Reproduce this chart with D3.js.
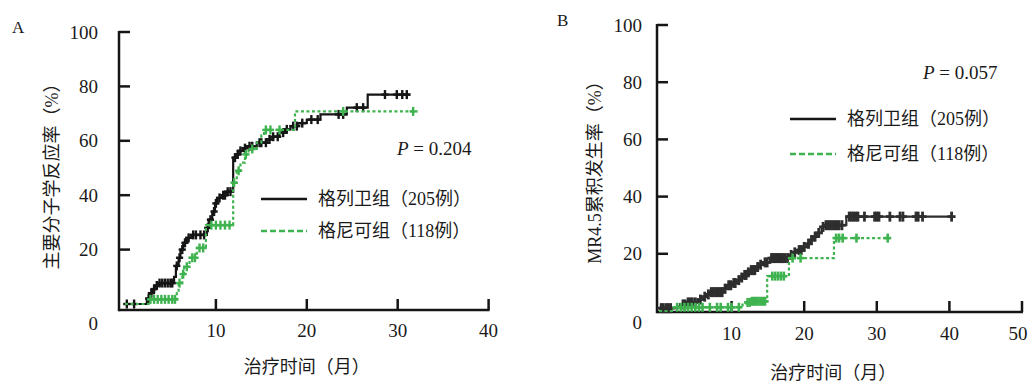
<!DOCTYPE html>
<html>
<head>
<meta charset="utf-8">
<script src="https://cdn.jsdelivr.net/npm/d3@7"></script>
<style>
  html, body { margin: 0; padding: 0; background: #fff; }
  svg { display: block; }
  text { fill: #1a1a1a; }
</style>
</head>
<body>
<div id="chart"></div>
<script>
// ---- data ----
const seriesNames = ['格列卫组（205例）', '格尼可组（118例）'];
const yTicks = [20, 40, 60, 80, 100];
const xTicksA = [10, 20, 30, 40];
const xTicksB = [10, 20, 30, 40, 50];

// panel A: major molecular response, [month, %] at each step
const aGlivecSteps = [[0,0],[2.4,2],[2.7,4],[3.0,5.5],[3.4,6.8],[3.8,7.7],[5.4,10],[5.6,14],[5.9,17],[6.1,20],[6.4,22.5],[6.8,24.3],[7.3,25.4],[9.0,28],[9.2,31],[9.6,34],[9.9,37],[10.2,39],[10.7,40],[11.2,41.3],[11.9,53.8],[12.2,55],[12.5,56.3],[13.0,57.3],[13.4,58],[14.5,59.3],[15.6,60.5],[16.3,61.5],[17.0,63],[17.6,64.2],[18.2,65.4],[19.0,66.5],[20.0,67.8],[21.5,69.7],[24.4,72.2],[26.7,77]];
const aGlivecEnd = 31.4;
const aGlivecCensor = [0.2,1.0,2.6,2.9,3.2,3.5,3.8,4.1,4.4,4.7,5.0,5.2,5.7,6.0,6.3,6.6,7.0,7.5,7.8,8.3,8.7,9.1,9.4,9.8,10.0,10.4,10.8,11.0,11.3,11.6,12.1,12.4,12.7,13.2,13.7,14.0,14.8,15.0,15.5,15.9,16.3,16.8,17.4,17.8,18.5,18.9,19.5,20.5,21.2,23.5,24.0,25.5,26.2,28.6,29.9,30.5,31.0];

const aTasignaSteps = [[0,0],[2.6,1.7],[5.7,4],[5.9,7.7],[6.3,11],[6.5,13.7],[7.1,17],[7.9,20.6],[8.9,29],[11.9,44.6],[12.3,49],[12.7,52],[13.2,55],[13.6,57],[14.5,59.3],[15.0,62],[15.3,64],[18.7,70.8]];
const aTasignaEnd = 32.2;
const aTasignaCensor = [2.8,3.2,3.6,4.0,4.4,4.8,5.2,5.5,6.0,6.4,6.8,7.4,7.7,8.2,8.6,9.5,10.0,10.5,11.0,11.5,12.0,12.5,13.3,14.0,15.5,16.0,17.0,24.0,31.7];

// panel B: MR4.5 cumulative incidence
const bGlivecSteps = [[0,1],[2.5,1.5],[3.0,2.3],[3.8,3],[5.4,4],[6.0,5],[6.6,5.8],[7.0,6.6],[8.9,7.8],[9.4,9],[10.0,9.8],[10.7,10.8],[11.2,11.7],[11.6,12.6],[12.1,13.5],[12.5,14.3],[13.4,15.4],[13.9,16.2],[14.3,17],[15.3,18.5],[18.0,19.6],[18.5,20.5],[19.0,21.3],[19.8,22.4],[20.4,23.5],[20.8,24.8],[21.3,26],[21.7,27.3],[22.4,29.4],[22.8,30],[25.8,33]];
const bGlivecEnd = 40.4;
const bGlivecCensor = [0.3,0.6,1.0,1.3,1.6,3.3,3.6,4.0,4.3,4.6,5.0,5.7,6.3,6.8,7.2,7.5,7.8,8.1,8.4,8.7,9.1,9.6,9.9,10.3,10.5,11.0,11.4,11.8,12.0,12.3,12.7,13.0,13.2,13.6,14.0,14.6,14.9,15.5,15.8,16.1,16.4,16.7,17.0,17.3,17.7,18.2,18.7,19.3,19.6,20.0,20.6,21.0,21.5,22.0,22.6,23.0,23.3,23.6,23.9,24.2,24.5,24.8,25.2,26.2,26.5,26.8,27.1,27.4,28.3,29.7,30.0,30.3,31.8,33.2,33.6,35.4,35.7,36.3,40.3];

const bTasignaSteps = [[0,0],[2.0,1.3],[11.5,2.2],[12.0,3],[12.6,3.4],[14.9,12.2],[17.9,18.5],[24.1,25.5]];
const bTasignaEnd = 31.8;
const bTasignaCensor = [2.5,3.0,3.5,4.0,4.5,5.0,5.5,6.0,7.0,8.0,8.5,9.5,10.0,11.0,12.2,12.5,12.8,13.1,13.4,13.7,14.0,14.3,14.6,15.6,16.0,16.4,16.8,17.2,18.4,19.5,24.4,24.8,25.3,27.2,31.5];

const BLACK = '#151515';
const DARK = '#2e2e2e';
const GREEN = '#3fb34f';
const NUM_FONT = '"Liberation Serif", "Times New Roman", serif';
const CJK_FONT = '"Liberation Serif", "Noto Sans CJK SC", serif';

const svg = d3.select('#chart').append('svg')
  .attr('width', 1029)
  .attr('height', 383);

function stepValue(steps, t) {
  let v = steps[0][1];
  for (const s of steps) { if (s[0] <= t) v = s[1]; }
  return v;
}

function drawPanel(p) {
  const g = svg.append('g');
  const x = d3.scaleLinear().domain(p.xDomain).range(p.xRange);
  const y = d3.scaleLinear().domain([0, 100]).range(p.yRange);

  // axes lines
  g.append('line')
    .attr('x1', p.axisX).attr('x2', p.axisX)
    .attr('y1', y(100) - 1).attr('y2', p.axisY + 1.2)
    .attr('stroke', BLACK).attr('stroke-width', 2.5);
  g.append('line')
    .attr('x1', p.axisX).attr('x2', x(p.xDomain[1]) + 1)
    .attr('y1', p.axisY).attr('y2', p.axisY)
    .attr('stroke', BLACK).attr('stroke-width', 2.5);

  // y ticks (inward)
  g.selectAll('.yt').data(yTicks).enter().append('line')
    .attr('x1', p.axisX).attr('x2', p.axisX + 11)
    .attr('y1', d => y(d)).attr('y2', d => y(d))
    .attr('stroke', BLACK).attr('stroke-width', 2.5);
  g.selectAll('.yl').data(yTicks).enter().append('text')
    .attr('x', p.axisX - p.labelGap).attr('y', d => y(d))
    .attr('dy', '0.35em').attr('text-anchor', 'end')
    .style('font-family', NUM_FONT).style('font-size', '19px')
    .text(d => d);
  g.append('text')
    .attr('x', p.axisX - p.labelGap).attr('y', p.zeroY)
    .attr('dy', '0.35em').attr('text-anchor', 'end')
    .style('font-family', NUM_FONT).style('font-size', '19px')
    .text('0');

  // x ticks (inward)
  g.selectAll('.xt').data(p.xTicks).enter().append('line')
    .attr('x1', d => x(d)).attr('x2', d => x(d))
    .attr('y1', p.axisY).attr('y2', p.axisY - 11)
    .attr('stroke', BLACK).attr('stroke-width', 2.5);
  g.selectAll('.xl').data(p.xTicks).enter().append('text')
    .attr('x', d => Math.min(x(d), 1018)).attr('y', p.xLabelY)
    .attr('dy', '0.35em').attr('text-anchor', 'middle')
    .style('font-family', NUM_FONT).style('font-size', '19px')
    .text(d => d);

  // titles
  g.append('text')
    .attr('x', x(p.xTitleAt)).attr('y', p.xTitleY)
    .attr('dy', '0.35em').attr('text-anchor', 'middle')
    .style('font-family', CJK_FONT).style('font-size', '18px')
    .text('治疗时间（月）');
  g.append('text')
    .attr('transform', `translate(${p.yTitleX},${p.yTitleY}) rotate(-90)`)
    .attr('dy', '0.35em').attr('text-anchor', 'middle')
    .style('font-family', CJK_FONT).style('font-size', '18px')
    .text(p.yTitle);
  g.append('text')
    .attr('x', p.letterX).attr('y', p.letterY)
    .attr('dy', '0.35em')
    .style('font-family', NUM_FONT).style('font-size', '17px')
    .text(p.letter);

  const pt = g.append('text')
    .attr('x', p.pX).attr('y', p.pY)
    .attr('dy', '0.35em')
    .style('font-family', NUM_FONT).style('font-size', '19px');
  pt.append('tspan').style('font-style', 'italic').text('P');
  pt.append('tspan').text(' = ' + p.pValue);

  // curves
  const line = d3.line().curve(d3.curveStepAfter)
    .x(d => x(d[0])).y(d => y(d[1]));
  p.series.forEach(s => {
    const pts = s.steps.concat([[s.end, s.steps[s.steps.length - 1][1]]]);
    g.append('path')
      .datum(pts)
      .attr('d', line)
      .attr('fill', 'none')
      .attr('stroke', s.color)
      .attr('stroke-width', s.width)
      .attr('stroke-dasharray', s.dash || null);
    const marks = g.append('g');
    s.censor.forEach(t => {
      const cx = x(t), cy = y(stepValue(s.steps, t));
      marks.append('line')
        .attr('x1', cx).attr('x2', cx).attr('y1', cy - s.mark).attr('y2', cy + s.mark)
        .attr('stroke', s.color).attr('stroke-width', s.markW);
      marks.append('line')
        .attr('x1', cx - s.mark * 0.8).attr('x2', cx + s.mark * 0.8).attr('y1', cy).attr('y2', cy)
        .attr('stroke', s.color).attr('stroke-width', s.markW);
    });
  });

  // legend
  const leg = g.append('g');
  [{ c: BLACK, dash: null }, { c: GREEN, dash: '6,3' }].forEach((d, i) => {
    const ly = p.legY + i * p.legStep;
    leg.append('line')
      .attr('x1', p.legX).attr('x2', p.legX + 46)
      .attr('y1', ly).attr('y2', ly)
      .attr('stroke', d.c).attr('stroke-width', 2.5)
      .attr('stroke-dasharray', d.dash);
    leg.append('text')
      .attr('x', p.legX + 57).attr('y', ly)
      .attr('dy', '0.35em')
      .style('font-family', CJK_FONT).style('font-size', '18px')
      .text(seriesNames[i]);
  });
}

drawPanel({
  letter: 'A', letterX: 12, letterY: 27,
  xDomain: [0, 40], xRange: [125, 488.6], xTicks: xTicksA,
  yRange: [304, 32],
  axisX: 119, axisY: 310, zeroY: 323, labelGap: 21,
  xLabelY: 330, xTitleAt: 20, xTitleY: 367,
  yTitle: '主要分子学反应率（%）', yTitleX: 52, yTitleY: 172,
  pX: 397, pY: 148, pValue: '0.204',
  legX: 261, legY: 199, legStep: 32,
  series: [
    { steps: aGlivecSteps, end: aGlivecEnd, censor: aGlivecCensor, color: BLACK, width: 2.2, mark: 4.5, markW: 2.4 },
    { steps: aTasignaSteps, end: aTasignaEnd, censor: aTasignaCensor, color: GREEN, width: 2.2, dash: '3,2.5', mark: 4.5, markW: 2.4 }
  ]
});

drawPanel({
  letter: 'B', letterX: 557, letterY: 20,
  xDomain: [0, 50], xRange: [659, 1022], xTicks: xTicksB,
  yRange: [311, 25],
  axisX: 657, axisY: 312, zeroY: 322, labelGap: 15,
  xLabelY: 333, xTitleAt: 24, xTitleY: 373,
  yTitle: 'MR4.5累积发生率（%）', yTitleX: 595, yTitleY: 168,
  pX: 923, pY: 72, pValue: '0.057',
  legX: 790, legY: 119, legStep: 35,
  series: [
    { steps: bGlivecSteps, end: bGlivecEnd, censor: bGlivecCensor, color: DARK, width: 2.2, mark: 5, markW: 2.8 },
    { steps: bTasignaSteps, end: bTasignaEnd, censor: bTasignaCensor, color: GREEN, width: 2.2, dash: '3,2.5', mark: 4.5, markW: 2.6 }
  ]
});
</script>
</body>
</html>
